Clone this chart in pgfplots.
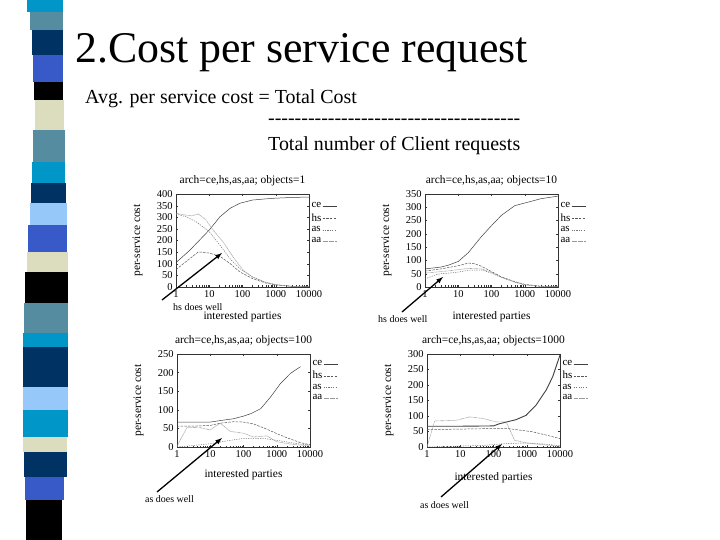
\documentclass[border=0pt]{standalone}
\usepackage{fontspec}
\setmainfont{Liberation Serif}
\usepackage{pgfplots}
\pgfplotsset{compat=1.18}

\definecolor{stcyan}{RGB}{0,150,200}
\definecolor{ststeel}{RGB}{85,140,160}
\definecolor{stnavy}{RGB}{0,50,100}
\definecolor{stroyal}{RGB}{55,90,200}
\definecolor{stlight}{RGB}{150,200,250}
\definecolor{stbeige}{RGB}{220,220,190}

\tikzset{
  lce/.style={black!75, line width=0.5pt, mark=none},
  lhs/.style={black!65, line width=0.5pt, dash pattern=on 2.5pt off 1.2pt, mark=none},
  las/.style={black!55, line width=0.5pt, dash pattern=on 1.2pt off 1.2pt, mark=none},
  laa/.style={black!40, line width=0.6pt, dash pattern=on 0.6pt off 0.6pt, mark=none},
}

\begin{document}
\begin{tikzpicture}
\begin{scope}[x=1bp,y=1bp]
\path[use as bounding box, fill=white] (0,0) rectangle (720,540);

% striped bar on the left
\foreach \ta/\tb/\xl/\xr/\cc in {
  0/12/27/63/stcyan, 12/30/30/63/ststeel, 30/55/32/63/stnavy, 55/82/33/63/stroyal,
  82/100/34/63/black, 100/130/35/64/stbeige, 130/162/33/65/ststeel, 162/183/32/65/stcyan,
  183/203/31/66/stnavy, 203/225/30/67/stlight, 225/252/28/67/stroyal, 252/272/27/68/stbeige,
  272/303/25/68/black, 303/333/24/68/ststeel, 333/347/23/68/stcyan, 347/387/23/68/stnavy,
  387/410/23/68/stlight, 410/437/23/68/stcyan, 437/452/23/67/stbeige, 452/477/24/67/stnavy,
  477/500/25/64/stroyal, 500/540/26/62/black}
  \fill[\cc] (\xl,540-\ta) rectangle (\xr,540-\tb);

% slide text
\node[anchor=base west, inner sep=0] at (75,477) {\fontsize{44}{46}\selectfont 2.Cost per service request};
\node[anchor=base west, inner sep=0] at (85,436) {\fontsize{20}{22}\selectfont Avg. per service cost = Total Cost};
\node[anchor=base west, inner sep=0] at (268,415) {\fontsize{20}{22}\selectfont
  -{}-{}-{}-{}-{}-{}-{}-{}-{}-{}-{}-{}-{}-{}-{}-{}-{}-{}-{}-{}-{}-{}-{}-{}-{}-{}-{}-{}-{}-{}-{}-{}-{}-{}-{}-{}-{}-{}};
\node[anchor=base west, inner sep=0] at (268,389) {\fontsize{20}{22}\selectfont Total number of Client requests};
\end{scope}

% objects=1
\begin{axis}[at={(176bp,253bp)}, anchor=south west,
  scale only axis, width=133bp, height=93bp,
  xmode=log, xmin=1, xmax=10000, ymin=0, ymax=400, ytick distance=50,
  xtick={1,10,100,1000,10000}, xticklabels={1,10,100,1000,10000},
  tick label style={font=\fontsize{10.5}{11}\selectfont},
  /pgf/number format/assume math mode=true,
  major tick length=2.5pt, minor tick length=1.5pt,
  axis line style={black!80, line width=0.6pt}, tick style={black!80},
  title={arch=ce,hs,as,aa; objects=1},
  title style={font=\fontsize{11.5}{12}\selectfont, at={(axis description cs:0.5,1.08)}, anchor=center, yshift=0pt},
  xlabel={interested parties}, ylabel={per-service cost},
  label style={font=\fontsize{11.5}{12}\selectfont},
  ylabel style={at={(axis description cs:-0.29,0.5)}, anchor=center},
  xlabel style={at={(axis description cs:0.5,-0.32)}, anchor=center},
  legend style={draw=none, fill=none, at={(axis description cs:1.01,0.92)}, anchor=north west,
    font=\fontsize{11}{11}\selectfont, row sep=2.2pt, inner sep=0pt, nodes={inner sep=1pt}},
  legend plot pos=right, legend cell align=left,
  legend image code/.code={\draw[#1] (0.2cm,0cm) -- (0.7cm,0cm);}]
\addplot[lce] coordinates {(1,105)(2.6,158)(10,245)(21,302)(42,338)(83,360)(200,374)(500,379)(1000,382)(3000,385)(10000,387)};
\addplot[lhs] coordinates {(1,75)(2.6,122)(4.7,151)(10,146)(21,132)(42,101)(83,65)(200,36)(500,17)(1000,9)(3000,3)(10000,1)};
\addplot[las] coordinates {(1,314)(2,302)(4,281)(10,238)(21,180)(42,122)(83,79)(200,43)(500,20)(1000,10)(3000,3)(10000,1)};
\addplot[laa] coordinates {(1,317)(2,309)(3,306)(4.7,314)(8,288)(13,245)(26,194)(52,129)(105,72)(200,43)(500,20)(1000,10)(3000,3)(10000,1)};
\legend{ce,hs,as,aa}
\end{axis}

% objects=10
\begin{axis}[at={(425bp,253bp)}, anchor=south west,
  scale only axis, width=133bp, height=93bp,
  xmode=log, xmin=1, xmax=10000, ymin=0, ymax=350, ytick distance=50,
  xtick={1,10,100,1000,10000}, xticklabels={1,10,100,1000,10000},
  tick label style={font=\fontsize{10.5}{11}\selectfont},
  /pgf/number format/assume math mode=true,
  major tick length=2.5pt, minor tick length=1.5pt,
  axis line style={black!80, line width=0.6pt}, tick style={black!80},
  title={arch=ce,hs,as,aa; objects=10},
  title style={font=\fontsize{11.5}{12}\selectfont, at={(axis description cs:0.5,1.08)}, anchor=center, yshift=0pt},
  xlabel={interested parties}, ylabel={per-service cost},
  label style={font=\fontsize{11.5}{12}\selectfont},
  ylabel style={at={(axis description cs:-0.29,0.5)}, anchor=center},
  xlabel style={at={(axis description cs:0.5,-0.32)}, anchor=center},
  legend style={draw=none, fill=none, at={(axis description cs:1.01,0.92)}, anchor=north west,
    font=\fontsize{11}{11}\selectfont, row sep=2.2pt, inner sep=0pt, nodes={inner sep=1pt}},
  legend plot pos=right, legend cell align=left,
  legend image code/.code={\draw[#1] (0.2cm,0cm) -- (0.7cm,0cm);}]
\addplot[lce] coordinates {(1,68)(3,75)(5,82)(10,96)(20,129)(50,190)(100,231)(200,270)(500,306)(1000,316)(3000,332)(10000,342)};
\addplot[lhs] coordinates {(1,60)(3,68)(10,80)(20,90)(30,88)(50,78)(100,58)(200,38)(500,20)(1000,10)(3000,3)(10000,1)};
\addplot[las] coordinates {(1,30)(2,45)(3,50)(5,52)(10,56)(20,63)(50,64)(100,52)(200,36)(500,18)(1000,8)(3000,2)(10000,1)};
\addplot[laa] coordinates {(1,52)(3,58)(10,65)(20,70)(50,68)(100,55)(200,36)(500,19)(1000,9)(3000,3)(10000,1)};
\legend{ce,hs,as,aa}
\end{axis}

% objects=100
\begin{axis}[at={(177bp,93bp)}, anchor=south west,
  scale only axis, width=133bp, height=93bp,
  xmode=log, xmin=1, xmax=10000, ymin=0, ymax=250, ytick distance=50,
  xtick={1,10,100,1000,10000}, xticklabels={1,10,100,1000,10000},
  tick label style={font=\fontsize{10.5}{11}\selectfont},
  /pgf/number format/assume math mode=true,
  major tick length=2.5pt, minor tick length=1.5pt,
  axis line style={black!80, line width=0.6pt}, tick style={black!80},
  title={arch=ce,hs,as,aa; objects=100},
  title style={font=\fontsize{11.5}{12}\selectfont, at={(axis description cs:0.5,1.08)}, anchor=center, yshift=0pt},
  xlabel={interested parties}, ylabel={per-service cost},
  label style={font=\fontsize{11.5}{12}\selectfont},
  ylabel style={at={(axis description cs:-0.29,0.5)}, anchor=center},
  xlabel style={at={(axis description cs:0.5,-0.30)}, anchor=center},
  legend style={draw=none, fill=none, at={(axis description cs:1.01,0.94)}, anchor=north west,
    font=\fontsize{11}{11}\selectfont, row sep=1.8pt, inner sep=0pt, nodes={inner sep=1pt}},
  legend plot pos=right, legend cell align=left,
  legend image code/.code={\draw[#1] (0.2cm,0cm) -- (0.7cm,0cm);}]
\addplot[lce] coordinates {(1,67)(10,67)(20,71)(50,76)(100,83)(170,90)(330,103)(660,135)(1300,171)(2600,198)(5200,216)};
\addplot[lhs] coordinates {(1,56)(3,56)(10,58)(20,64)(50,68)(100,67)(200,62)(500,48)(1000,36)(2000,25)(5000,12)(10000,6)};
\addplot[las] coordinates {(1,0)(4,5)(10,9)(40,18)(100,23)(400,23)(1000,18)(4000,9)(10000,5)};
\addplot[laa] coordinates {(1,2)(2,53)(5,52)(10,46)(20,64)(40,42)(100,37)(200,27)(500,30)(1000,14)(3000,7)(10000,3)};
\legend{ce,hs,as,aa}
\end{axis}

% objects=1000
\begin{axis}[at={(427bp,93bp)}, anchor=south west,
  scale only axis, width=133bp, height=93bp,
  xmode=log, xmin=1, xmax=10000, ymin=0, ymax=300, ytick distance=50,
  xtick={1,10,100,1000,10000}, xticklabels={1,10,100,1000,10000},
  tick label style={font=\fontsize{10.5}{11}\selectfont},
  /pgf/number format/assume math mode=true,
  major tick length=2.5pt, minor tick length=1.5pt,
  axis line style={black!80, line width=0.6pt}, tick style={black!80},
  title={arch=ce,hs,as,aa; objects=1000},
  title style={font=\fontsize{11.5}{12}\selectfont, at={(axis description cs:0.5,1.08)}, anchor=center, yshift=0pt},
  xlabel={interested parties}, ylabel={per-service cost},
  label style={font=\fontsize{11.5}{12}\selectfont},
  ylabel style={at={(axis description cs:-0.29,0.5)}, anchor=center},
  xlabel style={at={(axis description cs:0.5,-0.33)}, anchor=center},
  legend style={draw=none, fill=none, at={(axis description cs:1.01,0.94)}, anchor=north west,
    font=\fontsize{11}{11}\selectfont, row sep=1.8pt, inner sep=0pt, nodes={inner sep=1pt}},
  legend plot pos=right, legend cell align=left,
  legend image code/.code={\draw[#1] (0.2cm,0cm) -- (0.7cm,0cm);}]
\addplot[lce, line width=0.9pt] coordinates {(1,67)(10,67)(100,68)(150,75)(470,88)(950,102)(1900,135)(3800,183)(6000,226)(10000,297)};
\addplot[lhs] coordinates {(1,56)(50,59)(300,59)(1500,49)(4000,38)(10000,27)};
\addplot[las] coordinates {(1,0)(5,2)(48,5)(240,11)(950,13)(4000,9)(10000,4)};
\addplot[laa] coordinates {(1,0)(1.7,84)(7.6,86)(19,97)(48,92)(120,81)(240,81)(430,22)(950,13)(10000,2)};
\legend{ce,hs,as,aa}
\end{axis}

% annotations
\begin{scope}[x=1bp,y=1bp]
\draw[-latex, line width=1.3pt] (162,240) -- (222,287);
\node[anchor=base west, inner sep=0] at (173,229) {\fontsize{10}{11}\selectfont hs does well};
\draw[-latex, line width=1.3pt] (402,228) -- (443,263);
\node[anchor=base west, inner sep=0] at (378,217) {\fontsize{10}{11}\selectfont hs does well};
\draw[-latex, line width=1.3pt] (157,48) -- (222,102);
\node[anchor=base west, inner sep=0] at (145,37) {\fontsize{10}{11}\selectfont as does well};
\draw[-latex, line width=1.3pt] (441,43) -- (502,96);
\node[anchor=base west, inner sep=0] at (420,31) {\fontsize{10}{11}\selectfont as does well};
\end{scope}
\end{tikzpicture}
\end{document}
